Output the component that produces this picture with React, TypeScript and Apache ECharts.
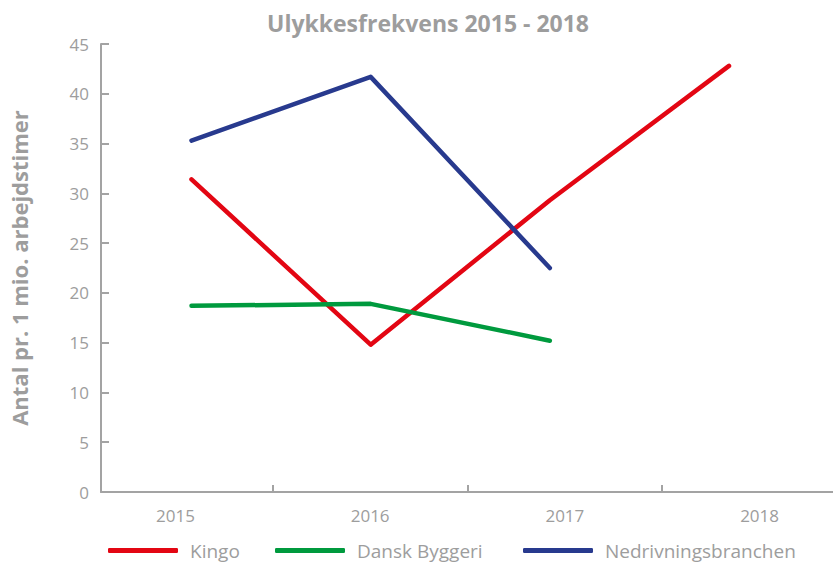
import React, { useEffect, useRef } from "react";
import * as echarts from "echarts";

const years = ["2015", "2016", "2017", "2018"];
const kingo = [31.4, 14.8, 29.3, 42.8];
const danskByggeri = [18.7, 18.9, 15.2, null];
const nedrivning = [35.3, 41.7, 22.5, null];
const yTicks = [0, 5, 10, 15, 20, 25, 30, 35, 40, 45];

const FONT = "'Open Sans', 'Noto Sans', sans-serif";
const GREY = "#9d9d9d";
const AXIS = "#a3a3a3";
const RED = "#e30613";
const GREEN = "#009a3e";
const NAVY = "#283a8e";

export default function App() {
  const ref = useRef<HTMLDivElement>(null);
  useEffect(() => {
    if (!ref.current) return;
    const chart = echarts.init(ref.current, undefined, { renderer: "svg" });
    const legendBase = {
      orient: "horizontal",
      top: 536,
      itemWidth: 70,
      itemHeight: 5,
      icon: "roundRect",
      textStyle: { color: GREY, fontFamily: FONT, fontSize: 19, padding: [0, 0, 0, 7] },
    };
    chart.setOption({
      animation: false,
      backgroundColor: "#ffffff",
      title: {
        text: "Ulykkesfrekvens 2015 - 2018",
        left: 262,
        top: 6,
        textStyle: { color: GREY, fontFamily: FONT, fontWeight: "bold", fontSize: 23, letterSpacing: 0.3 },
      },
      legend: [
        { ...legendBase, left: 103, data: ["Kingo"] },
        { ...legendBase, left: 270, data: ["Dansk Byggeri"] },
        { ...legendBase, left: 518, data: ["Nedrivningsbranchen"] },
      ],
      grid: [
        { left: 101, right: 0, top: 44, bottom: 71, outerBoundsMode: "none", containLabel: false },
        { left: 191.5, right: 104, top: 44, bottom: 71, outerBoundsMode: "none", containLabel: false },
      ],
      xAxis: [
        {
          type: "value",
          gridIndex: 0,
          min: 0.1179,
          max: 3.877,
          axisLine: { show: true, lineStyle: { color: AXIS, width: 2 } },
          axisTick: { show: true, inside: true, length: 7, lineStyle: { color: AXIS, width: 2 }, customValues: [1, 2, 3] },
          axisLabel: {
            show: true,
            margin: 15,
            color: GREY,
            fontFamily: FONT,
            fontSize: 17,
            customValues: [0.5, 1.5, 2.5, 3.5],
            formatter: (v: number) => years[Math.round(v - 0.5)] ?? "",
          },
          splitLine: { show: false },
        },
        {
          type: "category",
          gridIndex: 1,
          data: years,
          boundaryGap: false,
          show: false,
        },
      ],
      yAxis: [
        {
          type: "value",
          gridIndex: 0,
          min: 0,
          max: 45,
          interval: 5,
          name: "Antal pr. 1 mio. arbejdstimer",
          nameLocation: "middle",
          nameRotate: 90,
          nameGap: 71,
          nameTextStyle: { color: GREY, fontFamily: FONT, fontWeight: "bold", fontSize: 22, letterSpacing: 1.8 },
          axisLine: { show: true, lineStyle: { color: AXIS, width: 2 } },
          axisTick: { show: true, inside: true, length: 8, lineStyle: { color: AXIS, width: 2 } },
          axisLabel: {
            color: GREY,
            fontFamily: FONT,
            fontSize: 17,
            margin: 12,
            customValues: yTicks,
          },
          splitLine: { show: false },
        },
        { type: "value", gridIndex: 1, min: 0, max: 45, show: false },
      ],
      series: [
        {
          name: "Kingo",
          type: "line",
          xAxisIndex: 1,
          yAxisIndex: 1,
          data: kingo,
          symbol: "none",
          color: RED,
          lineStyle: { color: RED, width: 4.5, cap: "round", join: "round" },
        },
        {
          name: "Dansk Byggeri",
          type: "line",
          xAxisIndex: 1,
          yAxisIndex: 1,
          data: danskByggeri,
          symbol: "none",
          color: GREEN,
          lineStyle: { color: GREEN, width: 4.5, cap: "round", join: "round" },
        },
        {
          name: "Nedrivningsbranchen",
          type: "line",
          xAxisIndex: 1,
          yAxisIndex: 1,
          data: nedrivning,
          symbol: "none",
          color: NAVY,
          lineStyle: { color: NAVY, width: 4.5, cap: "round", join: "round" },
        },
      ],
    });
    return () => chart.dispose();
  }, []);
  return <div ref={ref} style={{ width: 833, height: 563, position: "absolute", left: 0, top: 0 }} />;
}
